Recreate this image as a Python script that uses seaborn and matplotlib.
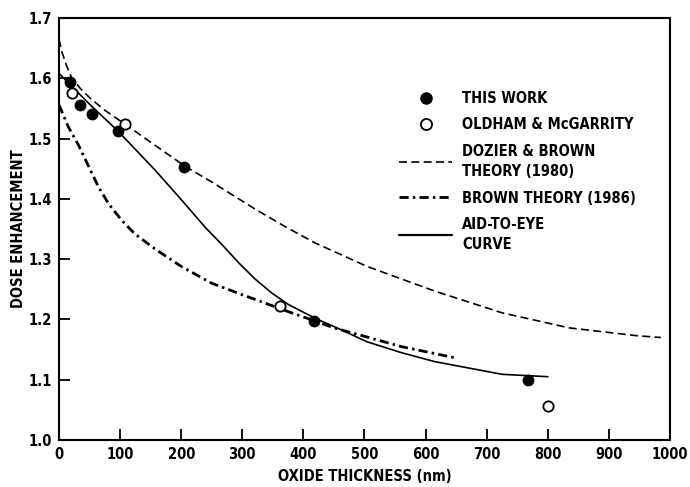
import matplotlib
matplotlib.use("Agg")
import matplotlib.pyplot as plt
import seaborn as sns
from matplotlib.lines import Line2D

# measured points
this_work_x = [18, 34, 54, 96, 205, 418, 767]
this_work_y = [1.594, 1.555, 1.541, 1.513, 1.453, 1.198, 1.100]
oldham_x = [21, 108, 362, 800]
oldham_y = [1.575, 1.524, 1.223, 1.057]

# curves
dozier_x = [0, 5, 12, 21, 35, 50, 75, 108, 150, 205, 250, 321, 370, 419, 504, 615, 725, 835, 946, 985]
dozier_y = [1.665, 1.643, 1.622, 1.600, 1.583, 1.568, 1.547, 1.524, 1.494, 1.455, 1.428,
            1.383, 1.354, 1.327, 1.288, 1.247, 1.211, 1.186, 1.173, 1.170]
brown_x = [0, 15, 32, 48, 64, 81, 103, 124, 157, 200, 250, 300, 375, 420, 450, 500, 560, 650]
brown_y = [1.556, 1.520, 1.489, 1.455, 1.421, 1.392, 1.364, 1.342, 1.317, 1.288, 1.260,
           1.241, 1.213, 1.197, 1.186, 1.172, 1.155, 1.136]
eye_x = [0, 20, 50, 96, 157, 199, 240, 266, 295, 321, 348, 375, 419, 457, 504, 560, 615, 725, 800]
eye_y = [1.608, 1.588, 1.557, 1.513, 1.448, 1.400, 1.352, 1.325, 1.293, 1.267, 1.244,
         1.225, 1.202, 1.185, 1.163, 1.145, 1.130, 1.109, 1.105]

x_ticks = [0, 100, 200, 300, 400, 500, 600, 700, 800, 900, 1000]
y_ticks = [1.0, 1.1, 1.2, 1.3, 1.4, 1.5, 1.6, 1.7]

DOZIER_DASH = [4.8, 2.6]
BROWN_DASH = [3.3, 1.5, 0.9, 1.5]
FS = 10.5

sns.set_theme(style="ticks")
plt.rcParams["font.family"] = ["DejaVu Sans"]
plt.rcParams["font.stretch"] = "condensed"
plt.rcParams["font.weight"] = "bold"
plt.rcParams["text.color"] = "black"
plt.rcParams["axes.labelcolor"] = "black"
plt.rcParams["xtick.color"] = "black"
plt.rcParams["ytick.color"] = "black"

fig = plt.figure(figsize=(6.9, 4.87), dpi=100)
ax = fig.add_axes([0.0855, 0.0965, 0.8855, 0.8665])

sns.lineplot(x=dozier_x, y=dozier_y, ax=ax, color="black", lw=1.2,
             sort=False, estimator=None).lines[-1].set_dashes(DOZIER_DASH)
sns.lineplot(x=brown_x, y=brown_y, ax=ax, color="black", lw=2.0,
             sort=False, estimator=None).lines[-1].set_dashes(BROWN_DASH)
sns.lineplot(x=eye_x, y=eye_y, ax=ax, color="black", lw=1.2,
             sort=False, estimator=None)

sns.scatterplot(x=this_work_x, y=this_work_y, ax=ax, color="black", s=62,
                edgecolor="black", zorder=5)
sns.scatterplot(x=oldham_x, y=oldham_y, ax=ax, facecolor="white", s=55,
                edgecolor="black", linewidth=1.3, zorder=5)

ax.set_xlim(0, 1000)
ax.set_ylim(1.0, 1.7)
ax.set_xticks(x_ticks)
ax.set_yticks(y_ticks)
ax.set_xticklabels([str(t) for t in x_ticks])
ax.set_yticklabels([f"{t:.1f}" for t in y_ticks])
ax.tick_params(direction="in", length=8, width=1.3, labelsize=FS, pad=5)
for s in ax.spines.values():
    s.set_visible(True)
    s.set_linewidth(1.5)
    s.set_color("black")

ax.set_xlabel("OXIDE THICKNESS (nm)", fontsize=FS, fontweight="bold", labelpad=5)
ax.set_ylabel("DOSE ENHANCEMENT", fontsize=FS, fontweight="bold", labelpad=2)

handles = [
    Line2D([], [], ls="none", marker="o", color="black", markersize=8),
    Line2D([], [], ls="none", marker="o", markerfacecolor="white",
           markeredgecolor="black", markeredgewidth=1.3, markersize=8),
    Line2D([], [], color="black", lw=1.2, dashes=DOZIER_DASH),
    Line2D([], [], color="black", lw=2.0, dashes=BROWN_DASH),
    Line2D([], [], color="black", lw=1.6),
]
labels = ["THIS WORK", "OLDHAM & McGARRITY", "DOZIER & BROWN\nTHEORY (1980)",
          "BROWN THEORY (1986)", "AID-TO-EYE\nCURVE"]
leg = ax.legend(handles, labels, loc="upper left", bbox_to_anchor=(0.545, 0.845),
                frameon=False, handlelength=3.6, handletextpad=0.7, labelspacing=0.8,
                borderpad=0, prop={"size": FS, "weight": "bold", "stretch": "condensed"})
for t in leg.get_texts():
    t.set_linespacing(1.4)

fig.savefig("out.png", dpi=100)
